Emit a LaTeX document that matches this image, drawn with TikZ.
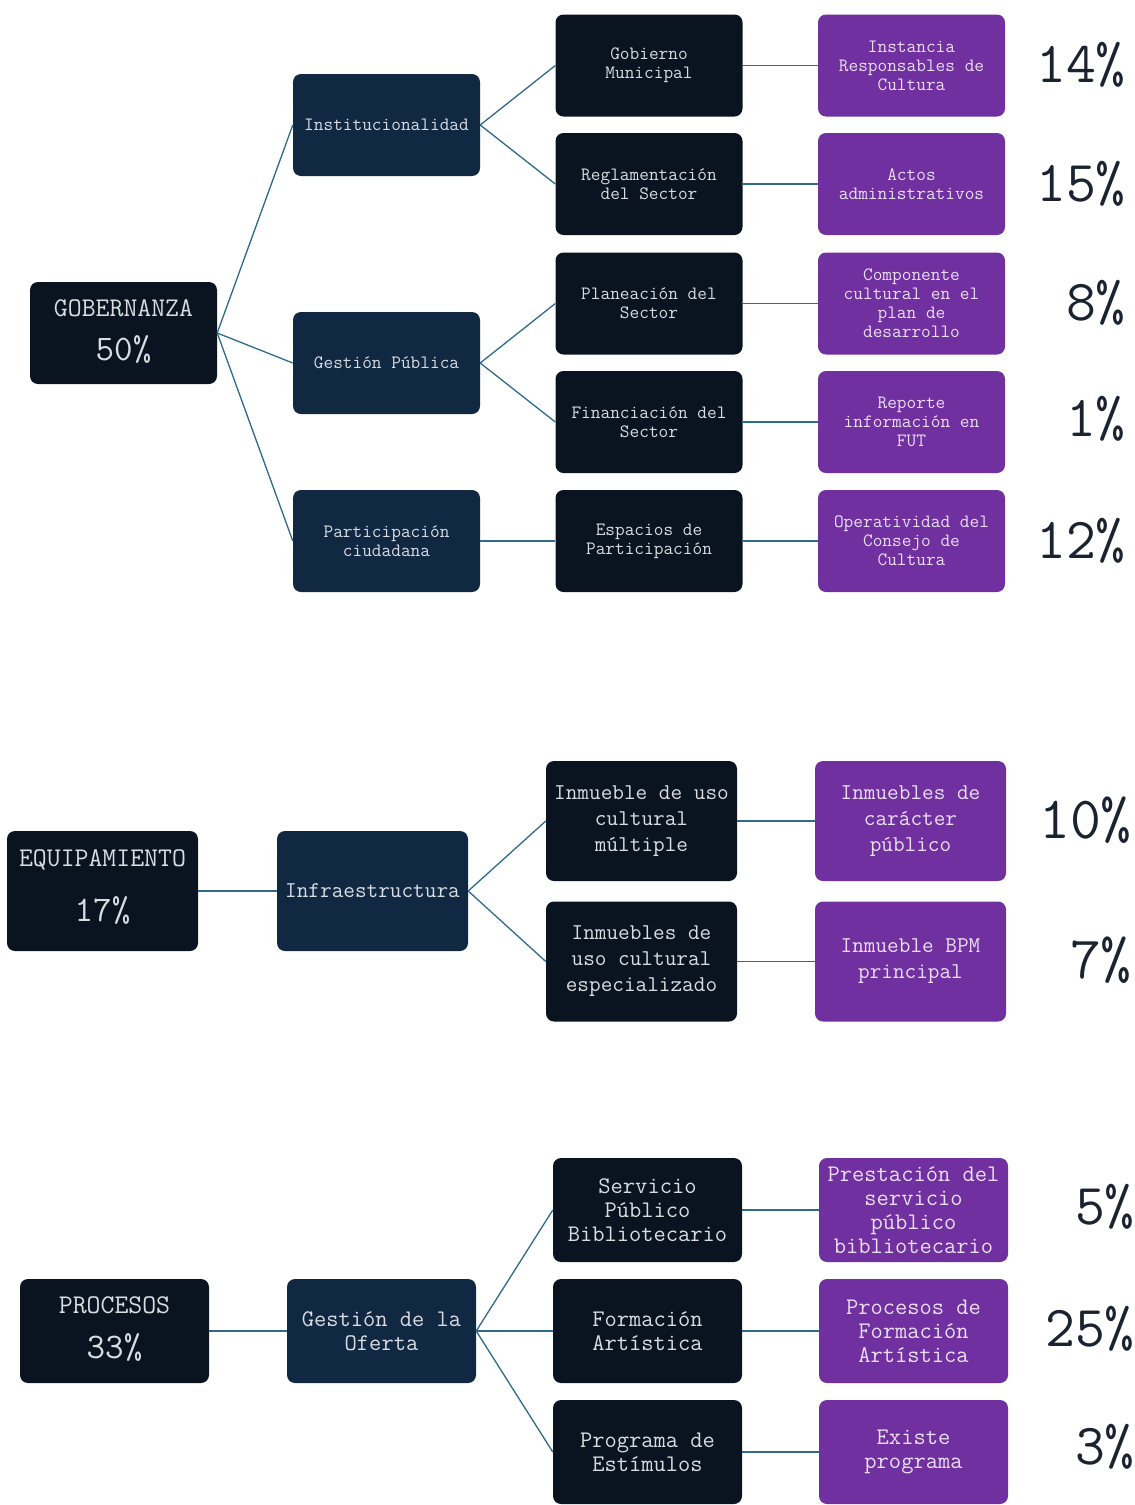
\documentclass[tikz,border=0pt]{standalone}
\usepackage{fontspec}
\definecolor{darkbox}{HTML}{0A1420}
\definecolor{navybox}{HTML}{112843}
\definecolor{purplebox}{HTML}{7030A0}
\definecolor{boxtext}{HTML}{D9DDE2}
\definecolor{purpletext}{HTML}{EADFF2}
\definecolor{linkcol}{HTML}{2F6A8A}
\definecolor{pcttext}{HTML}{1B2330}
\begin{document}
\begin{tikzpicture}[x=1pt,y=-1pt,
  boxbase/.style={rectangle,rounded corners=8pt,inner sep=0pt,align=center,anchor=center},
  headbox/.style={boxbase,fill=darkbox},
  navy/.style={boxbase,fill=navybox,text=boxtext},
  dark/.style={boxbase,fill=darkbox,text=boxtext},
  purp/.style={boxbase,fill=purplebox,text=purpletext},
  sA/.style={minimum width=187pt,minimum height=102pt,font=\ttfamily\fontsize{18.8}{19}\selectfont},
  sB/.style={minimum width=191pt,minimum height=120pt,font=\ttfamily\fontsize{22.6}{26}\selectfont},
  sC/.style={minimum width=189pt,minimum height=104pt,font=\ttfamily\fontsize{23.8}{24}\selectfont},
  headtxt/.style={text=boxtext,font=\ttfamily\fontsize{27}{30}\selectfont,anchor=center},
  headpct/.style={text=boxtext,font=\ttfamily\fontsize{36}{40}\selectfont,anchor=center},
  pct/.style={text=pcttext,font=\ttfamily\fontsize{58}{60}\selectfont,anchor=east,inner sep=0pt},
  link/.style={draw=linkcol,line width=1.3pt}
]
\useasboundingbox (0,0) rectangle (1135,1505);

% ---------- Section 1 ----------
\node[headbox,minimum width=187pt,minimum height=102pt] (gob) at (123.5,333) {};
\node[headtxt] (gobt) at (123.5,308) {GOBERNANZA};
\node[headpct] (gobp) at (123.5,349) {50\%};

\node[navy,sA] (inst) at (386.5,125) {Institucionalidad};
\node[navy,sA] (gp) at (386.5,363) {Gestión Pública};
\node[navy,sA] (pc) at (386.5,541) {Participación\\ciudadana};

\node[dark,sA] (gm) at (649,65.5) {Gobierno\\Municipal};
\node[dark,sA] (rs) at (649,184) {Reglamentación\\del Sector};
\node[dark,sA] (ps) at (649,303.5) {Planeación del\\Sector};
\node[dark,sA] (fs) at (649,422) {Financiación del\\Sector};
\node[dark,sA] (ep) at (649,541) {Espacios de\\Participación};

\node[purp,sA] (ir) at (911.5,65.5) {Instancia\\Responsables de\\Cultura};
\node[purp,sA] (aa) at (911.5,184) {Actos\\administrativos};
\node[purp,sA] (cc) at (911.5,303.5) {Componente\\cultural en el\\plan de\\desarrollo};
\node[purp,sA] (rf) at (911.5,422) {Reporte\\información en\\FUT};
\node[purp,sA] (oc) at (911.5,541) {Operatividad del\\Consejo de\\Cultura};

\node[pct] (p1) at (1126,65) {14\%};
\node[pct] (p2) at (1126,184) {15\%};
\node[pct] (p3) at (1126,303) {8\%};
\node[pct] (p4) at (1126,419) {1\%};
\node[pct] (p5) at (1126,541) {12\%};

\draw[link] (gob.east) -- (inst.west);
\draw[link] (gob.east) -- (gp.west);
\draw[link] (gob.east) -- (pc.west);
\draw[link] (inst.east) -- (gm.west);
\draw[link] (inst.east) -- (rs.west);
\draw[link] (gp.east) -- (ps.west);
\draw[link] (gp.east) -- (fs.west);
\draw[link] (pc.east) -- (ep.west);
\draw[link] (gm.east) -- (ir.west);
\draw[link] (rs.east) -- (aa.west);
\draw[link] (ps.east) -- (cc.west);
\draw[link] (fs.east) -- (rf.west);
\draw[link] (ep.east) -- (oc.west);

% ---------- Section 2 ----------
\node[headbox,minimum width=191pt,minimum height=120pt] (eq) at (102.5,891) {};
\node[headtxt] (eqt) at (102.5,860) {EQUIPAMIENTO};
\node[headpct] (eqp) at (102.5,910) {17\%};

\node[navy,sB] (inf) at (372.5,891) {Infraestructura};

\node[dark,sB] (im) at (641.5,821) {Inmueble de uso\\cultural\\múltiple};
\node[dark,sB] (ie) at (641.5,961.5) {Inmuebles de\\uso cultural\\especializado};

\node[purp,sB] (icp) at (910.5,821) {Inmuebles de\\carácter\\público};
\node[purp,sB] (ibp) at (910.5,961.5) {Inmueble BPM\\principal};

\node[pct,font=\ttfamily\fontsize{60}{62}\selectfont] (p6) at (1132,820) {10\%};
\node[pct,font=\ttfamily\fontsize{60}{62}\selectfont] (p7) at (1132,960) {7\%};

\draw[link] (eq.east) -- (inf.west);
\draw[link] (inf.east) -- (im.west);
\draw[link] (inf.east) -- (ie.west);
\draw[link] (im.east) -- (icp.west);
\draw[link] (ie.east) -- (ibp.west);

% ---------- Section 3 ----------
\node[headbox,minimum width=189pt,minimum height=104pt] (pr) at (114.5,1331) {};
\node[headtxt] (prt) at (114.5,1305) {PROCESOS};
\node[headpct] (prp) at (114.5,1347) {33\%};

\node[navy,sC] (go) at (381.5,1331) {Gestión de la\\Oferta};

\node[dark,sC] (sp) at (647.5,1210) {Servicio\\Público\\Bibliotecario};
\node[dark,sC] (fa) at (647.5,1331) {Formación\\Artística};
\node[dark,sC] (pe) at (647.5,1452) {Programa de\\Estímulos};

\node[purp,sC] (psp) at (913.5,1210) {Prestación del\\servicio\\público\\bibliotecario};
\node[purp,sC] (pfa) at (913.5,1331) {Procesos de\\Formación\\Artística};
\node[purp,sC] (exp) at (913.5,1452) {Existe\\programa};

\node[pct] (p8) at (1135,1207) {5\%};
\node[pct] (p9) at (1135,1329) {25\%};
\node[pct] (p10) at (1135,1447) {3\%};

\draw[link] (pr.east) -- (go.west);
\draw[link] (go.east) -- (sp.west);
\draw[link] (go.east) -- (fa.west);
\draw[link] (go.east) -- (pe.west);
\draw[link] (sp.east) -- (psp.west);
\draw[link] (fa.east) -- (pfa.west);
\draw[link] (pe.east) -- (exp.west);
\end{tikzpicture}
\end{document}
